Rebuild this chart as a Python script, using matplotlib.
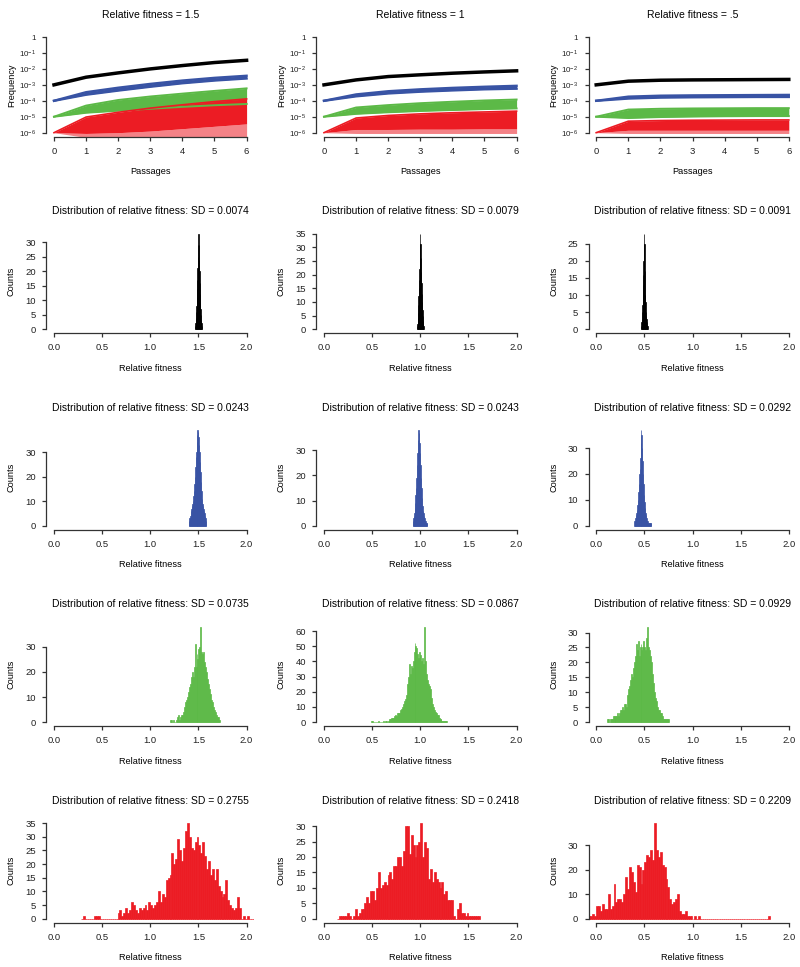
import numpy as np
import matplotlib
matplotlib.use('Agg')
import matplotlib.pyplot as plt
from matplotlib.ticker import NullLocator, FormatStrFormatter

plt.rcParams['font.family'] = ['Liberation Sans', 'DejaVu Sans']
plt.rcParams['mathtext.fontset'] = 'custom'
plt.rcParams['mathtext.rm'] = 'Liberation Sans'
plt.rcParams['mathtext.it'] = 'Liberation Sans:italic'

# ---------------- data ----------------
fitness_titles = ['Relative fitness = 1.5', 'Relative fitness = 1', 'Relative fitness = .5']
passages = [0, 1, 2, 3, 4, 5, 6]

# log10(frequency) of the trajectories
black_line = [[-3.0, -2.52, -2.25, -2.0, -1.79, -1.6, -1.46],
              [-3.0, -2.69, -2.48, -2.37, -2.27, -2.19, -2.12],
              [-3.0, -2.77, -2.71, -2.69, -2.68, -2.67, -2.66]]
blue_hi = [[-4.0, -3.46, -3.18, -2.94, -2.73, -2.56, -2.43],
           [-4.0, -3.60, -3.40, -3.28, -3.19, -3.12, -3.06],
           [-4.0, -3.74, -3.68, -3.66, -3.65, -3.64, -3.63]]
blue_lo = [[-4.0, -3.62, -3.36, -3.12, -2.90, -2.73, -2.60],
           [-4.0, -3.72, -3.54, -3.43, -3.35, -3.28, -3.24],
           [-4.0, -3.86, -3.80, -3.78, -3.77, -3.76, -3.76]]
green_hi = [[-5.0, -4.30, -3.95, -3.73, -3.55, -3.38, -3.22],
            [-5.0, -4.42, -4.27, -4.15, -4.06, -3.98, -3.92],
            [-5.0, -4.55, -4.50, -4.48, -4.47, -4.46, -4.46]]
green_lo = [[-5.0, -4.75, -4.62, -4.50, -4.38, -4.28, -4.20],
            [-5.0, -4.82, -4.72, -4.64, -4.58, -4.52, -4.48],
            [-5.0, -5.08, -5.02, -4.99, -4.97, -4.96, -4.96]]
red_hi = [[-6.0, -5.02, -4.72, -4.46, -4.25, -4.05, -3.88],
          [-6.0, -5.08, -4.92, -4.82, -4.75, -4.70, -4.65],
          [-6.0, -5.28, -5.24, -5.22, -5.21, -5.20, -5.20]]
red_solid = [[-6.0, -6.05, -6.0, -5.9, -5.75, -5.6, -5.45],
             [-6.0, -5.8, -5.8, -5.78, -5.78, -5.76, -5.76],
             [-6.0, -5.85, -5.85, -5.85, -5.85, -5.85, -5.85]]
red_lo = [[-6.0, -6.3, -6.3, -6.3, -6.3, -6.3, -6.3],
          [-6.0, -6.05, -6.05, -6.05, -6.05, -6.05, -6.05],
          [-6.0, -6.05, -6.05, -6.05, -6.05, -6.05, -6.05]]

# histograms: first bin edge, bin width, counts
sd_labels = [['0.0074', '0.0079', '0.0091'],
             ['0.0243', '0.0243', '0.0292'],
             ['0.0735', '0.0867', '0.0929'],
             ['0.2755', '0.2418', '0.2209']]

black_start = [1.466, 0.966, 0.466]
black_bw = 0.003
black_counts = [[1, 2, 4, 6, 8, 11, 14, 17, 21, 25, 29, 33, 29, 24, 20, 16, 12, 9, 7, 5, 3, 2, 1],
                [1, 2, 4, 6, 9, 12, 15, 18, 22, 26, 31, 35, 31, 26, 21, 17, 13, 10, 7, 5, 3, 2, 1],
                [1, 2, 3, 5, 7, 10, 13, 16, 20, 25, 28, 25, 17, 10, 10, 8, 5, 4, 3, 2, 1, 1, 1]]

blue_start = [1.40, 0.92, 0.395]
blue_bw = 0.005
blue_counts = [[2, 3, 3, 4, 6, 7, 8, 9, 10, 12, 14, 17, 20, 24, 28, 30, 34, 37, 39, 38, 36, 33, 30, 26,
                22, 18, 14, 11, 9, 8, 7, 6, 5, 4, 3, 2],
               [2, 3, 4, 5, 7, 9, 12, 15, 19, 24, 29, 34, 38, 37, 33, 29, 24, 19, 15, 11, 8, 6, 5, 4,
                3, 2, 2, 1, 1, 1],
               [2, 2, 3, 4, 5, 6, 8, 10, 13, 16, 20, 22, 26, 32, 37, 35, 30, 25, 20, 16, 12, 9, 7, 5,
                4, 3, 2, 2, 1, 1, 1, 1, 1, 1, 1]]

green_start = [1.20, 0.49, 0.11]
green_bw = 0.01
green_counts = [[1, 0, 1, 0, 1, 0, 0, 1, 2, 3, 1, 2, 3, 3, 4, 6, 8, 9, 10, 12, 14, 15, 18, 20, 18, 22,
                 31, 22, 27, 25, 29, 30, 38, 28, 27, 28, 24, 22, 20, 17, 15, 13, 11, 9, 8, 6, 5, 4,
                 3, 2, 2, 1],
                [1, 1, 0, 0, 0, 0, 0, 1, 0, 0, 0, 0, 1, 0, 1, 1, 0, 1, 1, 2, 2, 3, 3, 3, 4, 5, 4, 6,
                 6, 6, 8, 9, 10, 12, 14, 15, 18, 25, 30, 38, 32, 37, 36, 40, 46, 52, 50, 49, 45, 42,
                 46, 44, 40, 42, 38, 63, 40, 32, 28, 25, 24, 22, 16, 12, 10, 8, 7, 6, 5, 5, 3, 2, 2,
                 1, 1, 1, 1, 1, 1],
                [1, 1, 0, 1, 1, 1, 2, 2, 1, 2, 2, 3, 2, 3, 4, 4, 5, 4, 6, 6, 5, 9, 11, 12, 14, 16, 15,
                 18, 20, 22, 26, 24, 27, 22, 25, 26, 24, 25, 27, 25, 24, 28, 32, 25, 24, 22, 20, 16,
                 13, 10, 8, 7, 5, 4, 4, 3, 3, 2, 1, 1, 1, 1, 0, 1, 1]]

red_start = [0.28, 0.14, -0.08]
red_bw = 0.02
red_counts = [[0, 1, 0, 0, 0, 0, 0, 1, 1, 1, 0, 0, 0, 0, 0, 0, 0, 0, 0, 2,
               3, 1, 2, 4, 2, 3, 6, 5, 3, 2, 4, 3, 4, 5, 3, 6, 5, 4, 5, 6,
               10, 6, 9, 8, 14, 15, 16, 24, 20, 22, 29, 25, 21, 26, 32, 35, 30, 26, 25, 28,
               30, 27, 24, 28, 23, 18, 21, 16, 18, 14, 18, 12, 10, 8, 9, 14, 7, 5, 4, 3,
               4, 8, 4, 0, 1, 0, 1, 0, 0, 0],
              [0, 1, 1, 1, 1, 2, 1, 0, 1, 3, 1, 2, 3, 3, 5, 7, 5, 9, 9, 6,
               10, 15, 10, 11, 12, 11, 14, 15, 13, 17, 17, 20, 20, 17, 22, 30, 30, 21, 27, 24,
               20, 24, 25, 31, 20, 25, 23, 13, 16, 12, 15, 13, 12, 10, 12, 8, 9, 6, 6, 6,
               1, 0, 3, 5, 2, 2, 1, 2, 1, 1, 1, 1, 1, 1],
              [1, 1, 2, 1, 5, 5, 3, 6, 4, 4, 10, 4, 5, 14, 7, 8, 8, 7, 10, 17,
               12, 21, 19, 15, 11, 22, 21, 14, 20, 23, 26, 25, 28, 24, 39, 28, 25, 27, 22, 21,
               16, 13, 8, 6, 7, 8, 10, 3, 2, 2, 3, 1, 1, 1, 0, 1, 0, 1, 0, 0,
               0, 0, 0, 0, 0, 0, 0, 0, 0, 0, 0, 0, 0, 0, 0, 0, 0, 0, 0, 0,
               0, 0, 0, 0, 0, 0, 0, 0, 0, 0, 0, 0, 0, 1]]

y_steps = [[5, 5, 5], [10, 10, 10], [10, 10, 5], [5, 5, 10]]

# ---------------- style ----------------
BLACK = '#000000'
BLUE = '#3853a4'
GREEN = '#5cb947'
RED = '#ec1c24'
AX = '#333333'

W, H = 800, 967
col_left = [46.3, 316.3, 588.5]
pw = 208.0
row_top = [33.2, 229.7, 426.2, 622.7, 819.2]
ph = 103.3

fig = plt.figure(figsize=(W / 100, H / 100), dpi=100)


def make_ax(r, c):
    return fig.add_axes([col_left[c] / W, 1 - (row_top[r] + ph) / H, pw / W, ph / H])


def r_style(ax):
    for s in ['top', 'right']:
        ax.spines[s].set_visible(False)
    for s in ['left', 'bottom']:
        ax.spines[s].set_linewidth(0.9)
        ax.spines[s].set_color(AX)
    ax.tick_params(length=3, width=0.9, color=AX, labelsize=6.8, pad=4.5, labelcolor='#222222')
    ax.yaxis.set_label_coords(-0.146, 0.5)
    ax.xaxis.set_label_coords(0.5, -0.30)


# top row: frequency trajectories
for c in range(3):
    ax = make_ax(0, c)
    r_style(ax)
    ax.set_yscale('log')
    x = passages
    ax.fill_between(x, 10.0 ** np.array(red_lo[c]), 10.0 ** np.array(red_solid[c]),
                    color=RED, alpha=0.55, lw=0)
    ax.fill_between(x, 10.0 ** np.array(green_lo[c]), 10.0 ** np.array(green_hi[c]),
                    color=GREEN, lw=0)
    ax.plot(x, 10.0 ** np.array(green_hi[c]), color=GREEN, lw=1.4)
    ax.plot(x, 10.0 ** np.array(green_lo[c]), color=GREEN, lw=1.4)
    ax.fill_between(x, 10.0 ** np.array(red_solid[c]), 10.0 ** np.array(red_hi[c]),
                    color=RED, lw=0)
    ax.plot(x, 10.0 ** np.array(red_hi[c]), color=RED, lw=1.2)
    ax.fill_between(x, 10.0 ** np.array(blue_lo[c]), 10.0 ** np.array(blue_hi[c]),
                    color=BLUE, lw=0)
    ax.plot(x, 10.0 ** np.array(blue_hi[c]), color=BLUE, lw=1.7)
    ax.plot(x, 10.0 ** np.array(blue_lo[c]), color=BLUE, lw=1.7)
    ax.plot(x, 10.0 ** np.array(black_line[c]), color=BLACK, lw=2.5)

    ax.set_xlim(-0.24, 6.24)
    ax.set_ylim(10 ** -6.24, 10 ** 0.24)
    ax.set_xticks(passages)
    ax.set_yticks([10.0 ** -k for k in range(7)])
    ax.set_yticklabels(['1'] + [r'$10^{-%d}$' % k for k in range(1, 7)], fontsize=5.8)
    ax.yaxis.set_minor_locator(NullLocator())
    ax.spines['left'].set_bounds(1e-6, 1)
    ax.spines['bottom'].set_bounds(0, 6)
    ax.set_xlabel('Passages', fontsize=6.6)
    ax.set_ylabel('Frequency', fontsize=6.6)
    ax.set_title(fitness_titles[c], fontsize=7.5, pad=11)

# histogram rows
rows = [(BLACK, black_start, black_bw, black_counts),
        (BLUE, blue_start, blue_bw, blue_counts),
        (GREEN, green_start, green_bw, green_counts),
        (RED, red_start, red_bw, red_counts)]

for r, (col, starts, bw, counts_all) in enumerate(rows):
    for c in range(3):
        ax = make_ax(r + 1, c)
        r_style(ax)
        counts = np.array(counts_all[c])
        left = starts[c] + bw * np.arange(len(counts))
        ax.bar(left, counts, width=bw, align='edge', color=col, edgecolor=col, linewidth=0.5)
        ymax = counts.max()
        step = y_steps[r][c]
        top = (ymax // step) * step
        ax.set_ylim(-0.04 * ymax, 1.04 * ymax)
        ax.set_xlim(-0.08, 2.08)
        ax.set_yticks(np.arange(0, top + 1, step))
        ax.set_xticks([0, 0.5, 1.0, 1.5, 2.0])
        ax.xaxis.set_major_formatter(FormatStrFormatter('%.1f'))
        ax.spines['left'].set_bounds(0, top)
        ax.spines['bottom'].set_bounds(0, 2)
        ax.set_xlabel('Relative fitness', fontsize=6.6)
        ax.set_ylabel('Counts', fontsize=6.6)
        ax.set_title('Distribution of relative fitness: SD = ' + sd_labels[r][c], fontsize=7.5, pad=11)

fig.savefig('out.png', dpi=100)
